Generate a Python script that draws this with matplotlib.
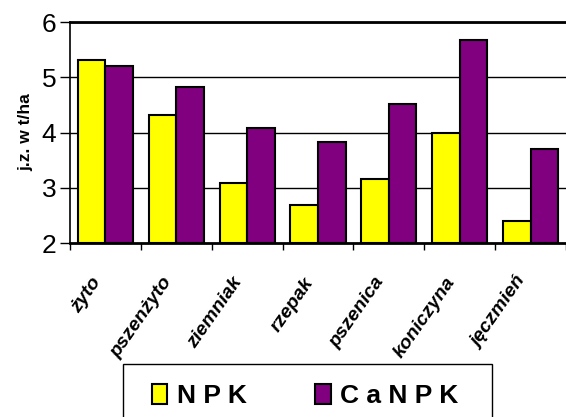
import matplotlib
matplotlib.use("Agg")
import matplotlib.pyplot as plt
import matplotlib.patches as mpatches
import matplotlib.transforms as mtransforms
import numpy as np

crops = ["żyto", "pszenżyto", "ziemniak", "rzepak", "pszenica", "koniczyna", "jęczmień"]
npk = [5.31, 4.31, 3.09, 2.69, 3.15, 4.00, 2.40]
canpk = [5.20, 4.82, 4.08, 3.82, 4.52, 5.68, 3.71]
series_labels = ["N P K", "C a N P K"]
y_ticks = [2, 3, 4, 5, 6]

plt.rcParams["font.family"] = ["Liberation Sans", "DejaVu Sans"]

W, H = 566, 417
fig = plt.figure(figsize=(W / 100, H / 100), dpi=100)
ax = fig.add_axes([70 / W, 1 - 243 / H, 496 / W, (243 - 22) / H])

x = np.arange(len(crops))
bw = 28 / 72
ax.bar(x - bw / 2, [v - 2 for v in npk], bw, bottom=2, color="#FFFF00",
       edgecolor="black", linewidth=1.5, zorder=3)
ax.bar(x + bw / 2, [v - 2 for v in canpk], bw, bottom=2, color="#800080",
       edgecolor="black", linewidth=1.5, zorder=3)

ax.set_ylim(2, 6)
ax.set_xlim(-0.5, -0.5 + 496 / 72)
ax.set_yticks(y_ticks)
ax.set_yticklabels([str(t) for t in y_ticks], fontsize=19)
ax.tick_params(axis="y", direction="out", length=7, width=1, pad=3)
for t in y_ticks[1:]:
    ax.axhline(t, color="black", linewidth=1, zorder=1)

ax.set_xticks(x)
ax.set_xticklabels(crops, fontsize=14, fontweight="bold", fontstyle="italic",
                   rotation=55, ha="right", va="center", rotation_mode="anchor")
ax.tick_params(axis="x", which="major", length=0, pad=26)
shift = mtransforms.ScaledTranslation(-0.08, 0, fig.dpi_scale_trans)
for lbl in ax.get_xticklabels():
    lbl.set_transform(lbl.get_transform() + shift)
ax.set_xticks(np.arange(-0.5, len(crops), 1), minor=True)
ax.tick_params(axis="x", which="minor", direction="out", length=5, width=1)

ax.set_ylabel("j.z. w t/ha", fontsize=12.5, fontweight="bold", labelpad=6)

ax.spines["right"].set_visible(False)
ax.spines["top"].set_linewidth(2)
ax.spines["bottom"].set_linewidth(2)
ax.spines["left"].set_linewidth(1.2)

# legend box (bottom edge runs past the figure like in the reference)
fig.add_artist(mpatches.Rectangle((123 / W, -0.1), (492 - 123) / W, 0.1 + 1 - 364 / H,
                                  transform=fig.transFigure, facecolor="white",
                                  edgecolor="black", linewidth=1))
handles = [
    mpatches.Patch(facecolor="#FFFF00", edgecolor="black", linewidth=1.5),
    mpatches.Patch(facecolor="#800080", edgecolor="black", linewidth=1.5),
]
fig.legend(handles, series_labels, loc="center", bbox_to_anchor=(305 / W, 1 - 396 / H),
           ncol=2, frameon=False, prop={"size": 19, "weight": "bold"},
           handlelength=0.6, handleheight=0.8, handletextpad=0.35, columnspacing=2.6)

fig.savefig("out.png", dpi=100)
